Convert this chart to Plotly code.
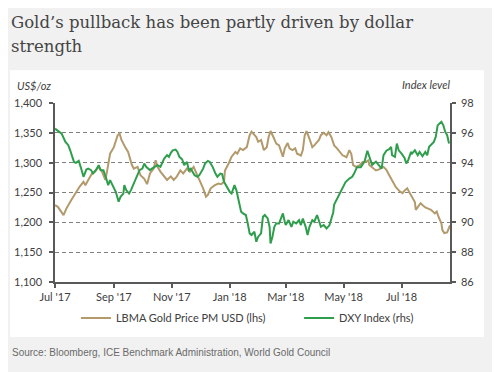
import plotly.graph_objects as go

# ---------------- data ----------------
gold_dates = [
    "2017-07-01", "2017-07-04", "2017-07-10", "2017-07-13", "2017-07-18", "2017-07-24", "2017-07-27", "2017-07-31",
    "2017-08-02", "2017-08-05", "2017-08-09", "2017-08-12", "2017-08-16", "2017-08-19", "2017-08-23", "2017-08-25",
    "2017-08-28", "2017-09-01", "2017-09-05", "2017-09-07", "2017-09-09", "2017-09-13", "2017-09-16", "2017-09-20",
    "2017-09-22", "2017-09-26", "2017-09-29", "2017-10-03", "2017-10-06", "2017-10-09", "2017-10-13", "2017-10-15",
    "2017-10-17", "2017-10-20", "2017-10-24", "2017-10-27", "2017-10-31", "2017-11-03", "2017-11-06", "2017-11-10",
    "2017-11-13", "2017-11-17", "2017-11-20", "2017-11-24", "2017-11-27", "2017-12-01", "2017-12-04", "2017-12-07",
    "2017-12-09", "2017-12-12", "2017-12-16", "2017-12-20", "2017-12-23", "2017-12-26", "2017-12-27", "2017-12-31",
    "2018-01-03", "2018-01-07", "2018-01-09", "2018-01-12", "2018-01-15", "2018-01-19", "2018-01-22", "2018-01-24",
    "2018-01-29", "2018-01-31", "2018-02-03", "2018-02-06", "2018-02-09", "2018-02-11", "2018-02-13", "2018-02-16",
    "2018-02-19", "2018-02-22", "2018-02-24", "2018-02-26", "2018-02-28", "2018-03-03", "2018-03-05", "2018-03-08",
    "2018-03-11", "2018-03-13", "2018-03-17", "2018-03-19", "2018-03-21", "2018-03-23", "2018-03-26", "2018-03-29",
    "2018-03-31", "2018-04-03", "2018-04-05", "2018-04-07", "2018-04-10", "2018-04-13", "2018-04-15", "2018-04-18",
    "2018-04-21", "2018-04-24", "2018-04-27", "2018-04-30", "2018-05-02", "2018-05-04", "2018-05-07", "2018-05-09",
    "2018-05-11", "2018-05-14", "2018-05-18", "2018-05-21", "2018-05-24", "2018-05-27", "2018-05-28", "2018-06-01",
    "2018-06-04", "2018-06-08", "2018-06-09", "2018-06-12", "2018-06-15", "2018-06-18", "2018-06-22", "2018-06-25",
    "2018-06-29", "2018-07-02", "2018-07-04", "2018-07-07", "2018-07-09", "2018-07-12", "2018-07-15", "2018-07-16",
    "2018-07-18", "2018-07-21", "2018-07-23", "2018-07-26", "2018-07-29", "2018-08-01", "2018-08-05", "2018-08-07",
    "2018-08-09", "2018-08-12", "2018-08-13", "2018-08-15", "2018-08-18", "2018-08-20", "2018-08-21",
]
gold_values = [
    1229, 1226, 1212, 1223, 1237, 1254, 1260, 1268,
    1262, 1271, 1282, 1285, 1293, 1287, 1271, 1287,
    1315, 1326, 1346, 1349, 1338, 1326, 1318, 1296,
    1290, 1293, 1279, 1273, 1264, 1282, 1290, 1304,
    1293, 1285, 1276, 1271, 1277, 1271, 1276, 1287,
    1282, 1290, 1285, 1293, 1282, 1268, 1257, 1243,
    1246, 1257, 1262, 1265, 1264, 1268, 1287, 1299,
    1310, 1318, 1315, 1324, 1321, 1326, 1346, 1352,
    1343, 1335, 1338, 1321, 1326, 1343, 1353, 1343,
    1332, 1329, 1321, 1310, 1324, 1333, 1324, 1321,
    1324, 1315, 1312, 1321, 1346, 1353, 1340, 1326,
    1329, 1335, 1338, 1346, 1350, 1346, 1351, 1343,
    1329, 1324, 1318, 1312, 1311, 1309, 1321, 1315,
    1296, 1293, 1296, 1301, 1301, 1304, 1296, 1290,
    1287, 1289, 1291, 1293, 1288, 1279, 1268, 1259,
    1252, 1249, 1253, 1257, 1251, 1243, 1234, 1221,
    1226, 1232, 1229, 1225, 1223, 1221, 1215, 1218,
    1209, 1198, 1187, 1182, 1183, 1193, 1195,
]

dxy_dates = [
    "2017-07-01", "2017-07-03", "2017-07-06", "2017-07-08", "2017-07-12", "2017-07-15", "2017-07-17", "2017-07-19",
    "2017-07-21", "2017-07-23", "2017-07-26", "2017-07-28", "2017-07-31", "2017-08-03", "2017-08-05", "2017-08-08",
    "2017-08-10", "2017-08-13", "2017-08-16", "2017-08-18", "2017-08-21", "2017-08-24", "2017-08-26", "2017-08-28",
    "2017-08-31", "2017-09-03", "2017-09-06", "2017-09-08", "2017-09-11", "2017-09-12", "2017-09-14", "2017-09-17",
    "2017-09-19", "2017-09-22", "2017-09-26", "2017-09-28", "2017-10-01", "2017-10-03", "2017-10-05", "2017-10-09",
    "2017-10-11", "2017-10-14", "2017-10-17", "2017-10-20", "2017-10-24", "2017-10-27", "2017-10-29", "2017-10-31",
    "2017-11-02", "2017-11-05", "2017-11-07", "2017-11-09", "2017-11-12", "2017-11-14", "2017-11-17", "2017-11-19",
    "2017-11-21", "2017-11-25", "2017-11-28", "2017-11-30", "2017-12-04", "2017-12-06", "2017-12-09", "2017-12-11",
    "2017-12-14", "2017-12-17", "2017-12-19", "2017-12-22", "2017-12-24", "2017-12-26", "2017-12-29",
    "2018-01-01", "2018-01-03", "2018-01-06", "2018-01-08", "2018-01-10", "2018-01-13", "2018-01-15", "2018-01-18",
    "2018-01-20", "2018-01-22", "2018-01-24", "2018-01-27", "2018-01-29", "2018-01-31", "2018-02-03", "2018-02-05",
    "2018-02-07", "2018-02-10", "2018-02-12", "2018-02-13", "2018-02-15", "2018-02-17", "2018-02-19", "2018-02-22",
    "2018-02-24", "2018-02-26", "2018-02-28", "2018-03-01", "2018-03-04", "2018-03-07", "2018-03-09", "2018-03-12",
    "2018-03-15", "2018-03-17", "2018-03-19", "2018-03-22", "2018-03-24", "2018-03-26", "2018-03-29", "2018-03-31",
    "2018-04-03", "2018-04-05", "2018-04-07", "2018-04-10", "2018-04-13", "2018-04-16", "2018-04-18", "2018-04-20",
    "2018-04-21", "2018-04-24", "2018-04-27", "2018-04-30", "2018-05-03", "2018-05-07", "2018-05-10", "2018-05-12",
    "2018-05-15", "2018-05-19", "2018-05-23", "2018-05-26", "2018-05-29", "2018-05-31", "2018-06-04", "2018-06-08",
    "2018-06-10", "2018-06-12", "2018-06-15", "2018-06-18", "2018-06-20", "2018-06-21", "2018-06-24", "2018-06-26",
    "2018-06-28", "2018-07-01", "2018-07-04", "2018-07-06", "2018-07-08", "2018-07-11", "2018-07-12", "2018-07-15",
    "2018-07-18", "2018-07-20", "2018-07-23", "2018-07-26", "2018-07-28", "2018-07-30", "2018-08-02", "2018-08-04",
    "2018-08-06", "2018-08-08", "2018-08-10", "2018-08-12", "2018-08-14", "2018-08-16", "2018-08-18", "2018-08-20",
]
dxy_values = [
    96.28, 96.17, 96.06, 95.95, 95.39, 95.17, 94.83, 94.50,
    94.05, 93.99, 94.12, 93.72, 93.05, 93.54, 93.60, 93.50,
    93.27, 93.50, 93.83, 93.50, 93.50, 92.94, 92.49, 92.83,
    92.38, 92.05, 91.38, 91.71, 91.93, 92.49, 92.16, 91.93,
    92.16, 92.60, 93.27, 93.50, 93.60, 93.94, 93.72, 93.50,
    93.60, 93.72, 93.83, 93.72, 94.28, 94.50, 94.39, 94.66,
    94.83, 94.88, 94.72, 94.39, 94.21, 93.83, 94.05, 93.50,
    93.60, 93.16, 93.05, 93.16, 93.60, 93.94, 94.12, 94.05,
    93.72, 93.27, 93.05, 93.27, 93.23, 92.72, 92.38,
    92.05, 91.93, 92.49, 92.16, 91.60, 90.71, 90.60, 90.49,
    89.93, 89.26, 89.15, 89.37, 88.70, 89.04, 89.26, 90.37,
    90.49, 90.26, 89.70, 88.59, 89.04, 89.70, 89.93, 89.93,
    90.26, 90.60, 90.04, 89.82, 90.15, 89.70, 90.04, 89.93,
    90.15, 89.82, 90.26, 89.70, 89.15, 89.70, 90.15, 90.04,
    90.49, 90.04, 89.70, 89.82, 89.59, 89.80, 90.20, 90.66,
    91.20, 91.57, 92.00, 92.36, 92.70, 92.93, 93.05, 93.27,
    93.70, 93.70, 94.07, 94.80, 94.20, 93.84, 94.07, 93.73,
    93.60, 94.50, 94.80, 94.90, 95.06, 94.50, 94.39, 95.28,
    94.83, 94.61, 94.34, 93.94, 94.17, 94.72, 94.61, 94.83,
    94.50, 94.72, 94.43, 94.72, 94.50, 95.06, 95.28, 95.39,
    95.73, 96.50, 96.62, 96.73, 96.50, 96.06, 95.84, 95.28,
]

tick_dates = ["2017-07-01", "2017-09-01", "2017-11-01", "2018-01-01", "2018-03-01", "2018-05-01", "2018-07-01"]
tick_labels = ["Jul '17", "Sep '17", "Nov '17", "Jan '18", "Mar '18", "May '18", "Jul '18"]
x_range = ["2017-07-01", "2018-08-21"]

gold_name = "LBMA Gold Price PM USD (lhs)"
dxy_name = "DXY Index (rhs)"
title_line1 = "Gold’s pullback has been partly driven by dollar"
title_line2 = "strength"
source_text = "Source: Bloomberg, ICE Benchmark Administration, World Gold Council"

# ---------------- styles ----------------
GOLD = "#b39a6c"
GREEN = "#2e9e4c"
AXIS = "#595959"
GRID = "#808080"
TXT = "#404040"
SANS = "Lato"
SERIF = "DejaVu Serif"

fig = go.Figure()
fig.add_trace(go.Scatter(x=gold_dates, y=gold_values, name=gold_name, mode="lines",
                         line=dict(color=GOLD, width=2), yaxis="y", legend="legend"))
fig.add_trace(go.Scatter(x=dxy_dates, y=dxy_values, name=dxy_name, mode="lines",
                         line=dict(color=GREEN, width=2), yaxis="y2", legend="legend2"))

legend_common = dict(orientation="h", y=-0.201, xanchor="left", yanchor="middle",
                     bgcolor="rgba(0,0,0,0)", font=dict(family=SANS, size=11, color=TXT),
                     itemwidth=30)

fig.update_layout(
    width=500, height=372,
    margin=dict(l=47, r=58, t=95, b=98, autoexpand=False),
    paper_bgcolor="#f1f1f1",
    plot_bgcolor="rgba(0,0,0,0)",
    font=dict(family=SANS, size=11, color=TXT),
    xaxis=dict(type="date", range=x_range, tickvals=tick_dates, ticktext=tick_labels,
               showgrid=False, showline=True, linecolor=AXIS, linewidth=1.5,
               ticks="outside", ticklen=4, tickcolor=AXIS, tickwidth=1.5,
               tickfont=dict(family=SANS, size=11, color=TXT)),
    yaxis=dict(range=[1100, 1400], dtick=50, tickformat=",d",
               showgrid=True, gridcolor=GRID, griddash="4px,3px", gridwidth=1,
               showline=True, linecolor=AXIS, linewidth=1.5,
               ticks="outside", ticklen=4, tickcolor=AXIS, tickwidth=1.5,
               ticklabelstandoff=5,
               zeroline=False, tickfont=dict(family=SANS, size=11, color=TXT)),
    yaxis2=dict(range=[86, 98], dtick=2, overlaying="y", side="right",
                showgrid=False, showline=True, linecolor=AXIS, linewidth=1.5,
                ticks="outside", ticklen=4, tickcolor=AXIS, tickwidth=1.5,
                ticklabelstandoff=3,
                zeroline=False, tickfont=dict(family=SANS, size=11, color=TXT)),
    legend=dict(x=0.053, **legend_common),
    legend2=dict(x=0.618, **legend_common),
    showlegend=True,
)

# white chart panel
fig.add_shape(type="rect", xref="paper", yref="paper", x0=-0.1139, x1=1.0861, y0=-0.3067, y1=1.1824,
              fillcolor="white", line=dict(width=0), layer="below")

# title (two lines, as in the reference)
fig.add_annotation(text=title_line1, xref="paper", yref="paper", x=-0.1165, y=1.4525,
                   xanchor="left", yanchor="middle", showarrow=False,
                   font=dict(family=SERIF, size=16.5, color="#444444"))
fig.add_annotation(text=title_line2, xref="paper", yref="paper", x=-0.1165, y=1.313,
                   xanchor="left", yanchor="middle", showarrow=False,
                   font=dict(family=SERIF, size=16.5, color="#444444"))

fig.add_annotation(text="<i>US$/oz</i>", xref="paper", yref="paper", x=-0.101, y=1.099,
                   xanchor="left", yanchor="middle", showarrow=False,
                   font=dict(family=SANS, size=11, color=TXT))
fig.add_annotation(text="<i>Index level</i>", xref="paper", yref="paper", x=1.005, y=1.105,
                   xanchor="right", yanchor="middle", showarrow=False,
                   font=dict(family=SANS, size=11, color=TXT))
fig.add_annotation(text=source_text, xref="paper", yref="paper", x=-0.1139, y=-0.396,
                   xanchor="left", yanchor="middle", showarrow=False,
                   font=dict(family="Liberation Sans", size=10, color="#6a6a6a"))

fig.write_html("out.html")
